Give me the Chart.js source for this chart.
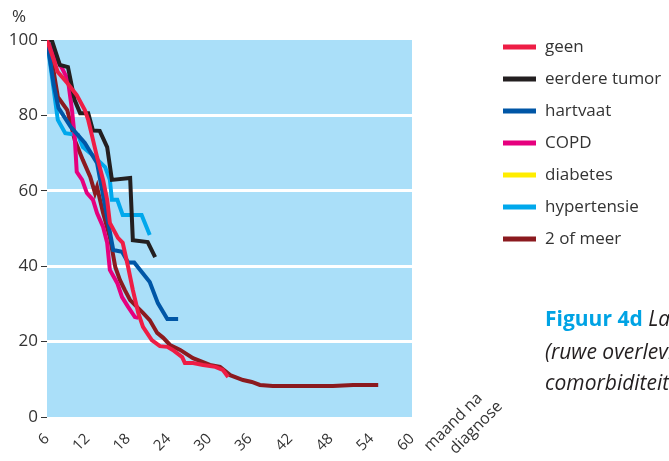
<!DOCTYPE html>
<html>
<head>
<meta charset="utf-8">
<script src="https://cdn.jsdelivr.net/npm/chart.js@4"></script>
<style>
  html, body { margin: 0; padding: 0; background: #fff; }
  #wrap { position: relative; width: 669px; height: 461px; overflow: hidden; }
  #overleving { display: block; }
</style>
</head>
<body>
<div id="wrap"><canvas id="overleving" width="669" height="461"></canvas></div>
<script>
// maanden na diagnose (x) en overleving in % (y), per groep
const seriesNames = ['geen', 'eerdere tumor', 'hartvaat', 'COPD', 'diabetes', 'hypertensie', '2 of meer'];
const seriesColors = ['#ee1d45', '#231f20', '#0056a6', '#e6007e', '#ffed00', '#00a8ec', '#8b1a1f'];

const geenMaand = [6, 7.6, 9, 10.4, 11.6, 12.1, 12.7, 13.4, 14.3, 14.9, 15.3, 16.5, 17.2, 18, 18.7, 19.5, 20.2, 21.5, 22.7, 23.8, 24.6, 26, 26.4, 27.6, 29.1, 30.9, 32, 32.8];
const geenPct = [100, 91.5, 88.6, 85.4, 81.4, 78.8, 74.3, 69, 62.9, 57.6, 51.5, 47.5, 46.2, 39.8, 33.7, 27.6, 23.9, 20.4, 18.8, 18.6, 17.8, 15.9, 14.3, 14.3, 13.8, 13.3, 12.5, 10.6];

const tumorMaand = [6, 6.7, 7.9, 9.1, 10.1, 10.9, 12.1, 12.8, 13.8, 14.9, 15.6, 18.3, 18.7, 20.9, 22];
const tumorPct = [100, 100, 93.4, 92.8, 84, 80.6, 80.6, 76, 75.9, 71.6, 62.9, 63.4, 46.9, 46.4, 42.4];

const hartvaatMaand = [6, 7, 7.7, 9.5, 11.6, 13.4, 15.8, 17.1, 18, 18.9, 21.2, 22.4, 23.8, 25.4];
const hartvaatPct = [100, 88, 82, 77, 72.7, 67.4, 44.3, 43.8, 41, 41, 35.8, 30.2, 26, 26];

const copdMaand = [6, 7.2, 8.2, 9.1, 9.7, 10.1, 10.4, 11.2, 11.9, 12.8, 13.4, 14.3, 14.9, 15.3, 16.4, 17.1, 18, 19, 19.5];
const copdPct = [100, 95.5, 92.6, 89.4, 81.4, 74.3, 65, 62.9, 59.4, 57.6, 54.1, 50.4, 46.2, 39, 35.5, 31.8, 29.2, 26.5, 26.3];

const diabetesMaand = [];
const diabetesPct = [];

const hyperMaand = [6, 7.6, 8.7, 10.6, 11.3, 12.4, 13.5, 14.6, 15.3, 15.6, 16.4, 17.2, 20, 21.2];
const hyperPct = [100, 78.8, 75.3, 74.8, 71.6, 70, 68.2, 66.3, 62.9, 57.6, 57.6, 53.6, 53.6, 48.3];

const meerMaand = [6, 6.7, 7.6, 9, 10.1, 11.3, 12.4, 13.1, 13.4, 14.3, 15.3, 16.1, 16.8, 17.5, 18.3, 19.3, 20.2, 21.2, 22.3, 23.2, 24.2, 25.7, 27.6, 30.1, 31.6, 33.1, 35, 36.3, 37.5, 39.4, 48.3, 51.3, 55];
const meerPct = [100, 94.7, 84.9, 81.4, 73.5, 68.2, 63.7, 59.4, 61, 54.1, 47.7, 39.8, 36.3, 33.7, 31, 29.2, 27.6, 25.7, 22.3, 21, 19.1, 17.8, 15.6, 13.8, 13.3, 11.1, 9.8, 9.3, 8.5, 8.2, 8.2, 8.5, 8.5];

const xTicks = [6, 12, 18, 24, 30, 36, 42, 48, 54, 60];
const yTicks = [0, 20, 40, 60, 80, 100];

const seriesX = [geenMaand, tumorMaand, hartvaatMaand, copdMaand, diabetesMaand, hyperMaand, meerMaand];
const seriesY = [geenPct, tumorPct, hartvaatPct, copdPct, diabetesPct, hyperPct, meerPct];

const FONT = '"Open Sans", Lato, sans-serif';
const TEXT = '#333333';

const datasets = seriesNames.map((name, i) => ({
    label: name,
    data: seriesX[i].map((m, j) => ({ x: m, y: seriesY[i][j] })),
    borderColor: seriesColors[i],
    borderWidth: 4,
    pointRadius: 0,
    tension: 0,
    fill: false
}));

// blue plot background
const plotBackground = {
    id: 'plotBackground',
    beforeDraw(chart) {
        const { ctx, chartArea: a } = chart;
        ctx.save();
        ctx.fillStyle = '#aadff9';
        ctx.fillRect(a.left, a.top, a.right - a.left, a.bottom - a.top);
        ctx.restore();
    }
};

// legend, axis titles and caption text
const extras = {
    id: 'extras',
    afterDraw(chart) {
        const ctx = chart.ctx;
        ctx.save();
        ctx.fillStyle = TEXT;
        ctx.font = '17px ' + FONT;
        ctx.textBaseline = 'alphabetic';
        ctx.fillText('%', 12, 22);

        // legend
        ctx.textBaseline = 'middle';
        seriesNames.forEach((name, i) => {
            const y = 47 + i * 32;
            ctx.strokeStyle = seriesColors[i];
            ctx.lineWidth = 5;
            ctx.beginPath();
            ctx.moveTo(503, y);
            ctx.lineTo(536, y);
            ctx.stroke();
            ctx.fillStyle = TEXT;
            ctx.fillText(name, 545, y);
        });

        // x axis title, rotated
        ctx.textBaseline = 'alphabetic';
        ctx.font = '16px ' + FONT;
        ctx.save();
        ctx.translate(430, 452);
        ctx.rotate(-Math.PI / 4);
        ctx.fillText('maand na', 0, 0);
        ctx.fillText('diagnose', 16, 20);
        ctx.restore();

        // caption (cut off at the right edge)
        ctx.font = 'bold 21px ' + FONT;
        ctx.fillStyle = '#00a3e4';
        ctx.fillText('Figuur 4d', 545, 326);
        const w = ctx.measureText('Figuur 4d ').width;
        ctx.font = 'italic 21px ' + FONT;
        ctx.fillStyle = '#231f20';
        ctx.fillText('Landelijke overleving', 545 + w, 326);
        ctx.fillText('(ruwe overleving)', 545, 359);
        ctx.fillText('comorbiditeit', 545, 390);
        ctx.restore();
    }
};

const ctx = document.getElementById('overleving').getContext('2d');

new Chart(ctx, {
    type: 'line',
    data: { datasets: datasets },
    options: {
        responsive: false,
        animation: false,
        layout: { padding: { top: 40, right: 257, bottom: 0, left: 0 } },
        plugins: {
            legend: { display: false },
            tooltip: { enabled: false }
        },
        scales: {
            x: {
                type: 'linear',
                min: 6,
                max: 60,
                afterFit(scale) { scale.height = 44; },
                afterBuildTicks(scale) { scale.ticks = xTicks.map(v => ({ value: v })); },
                grid: { display: false },
                border: { display: false },
                ticks: {
                    autoSkip: false,
                    minRotation: 45,
                    maxRotation: 45,
                    padding: 5,
                    color: TEXT,
                    font: { family: FONT, size: 15 }
                }
            },
            y: {
                min: 0,
                max: 100,
                afterFit(scale) { scale.width = 47; },
                afterBuildTicks(scale) { scale.ticks = yTicks.map(v => ({ value: v })); },
                border: { display: false },
                grid: {
                    color: c => (c.tick && (c.tick.value === 0 || c.tick.value === 100)) ? 'rgba(0,0,0,0)' : '#ffffff',
                    lineWidth: 3,
                    tickColor: TEXT,
                    tickLength: 6,
                    tickWidth: 1
                },
                ticks: {
                    padding: 3,
                    color: TEXT,
                    font: { family: FONT, size: 17 }
                }
            }
        }
    },
    plugins: [plotBackground, extras]
});
</script>
</body>
</html>
